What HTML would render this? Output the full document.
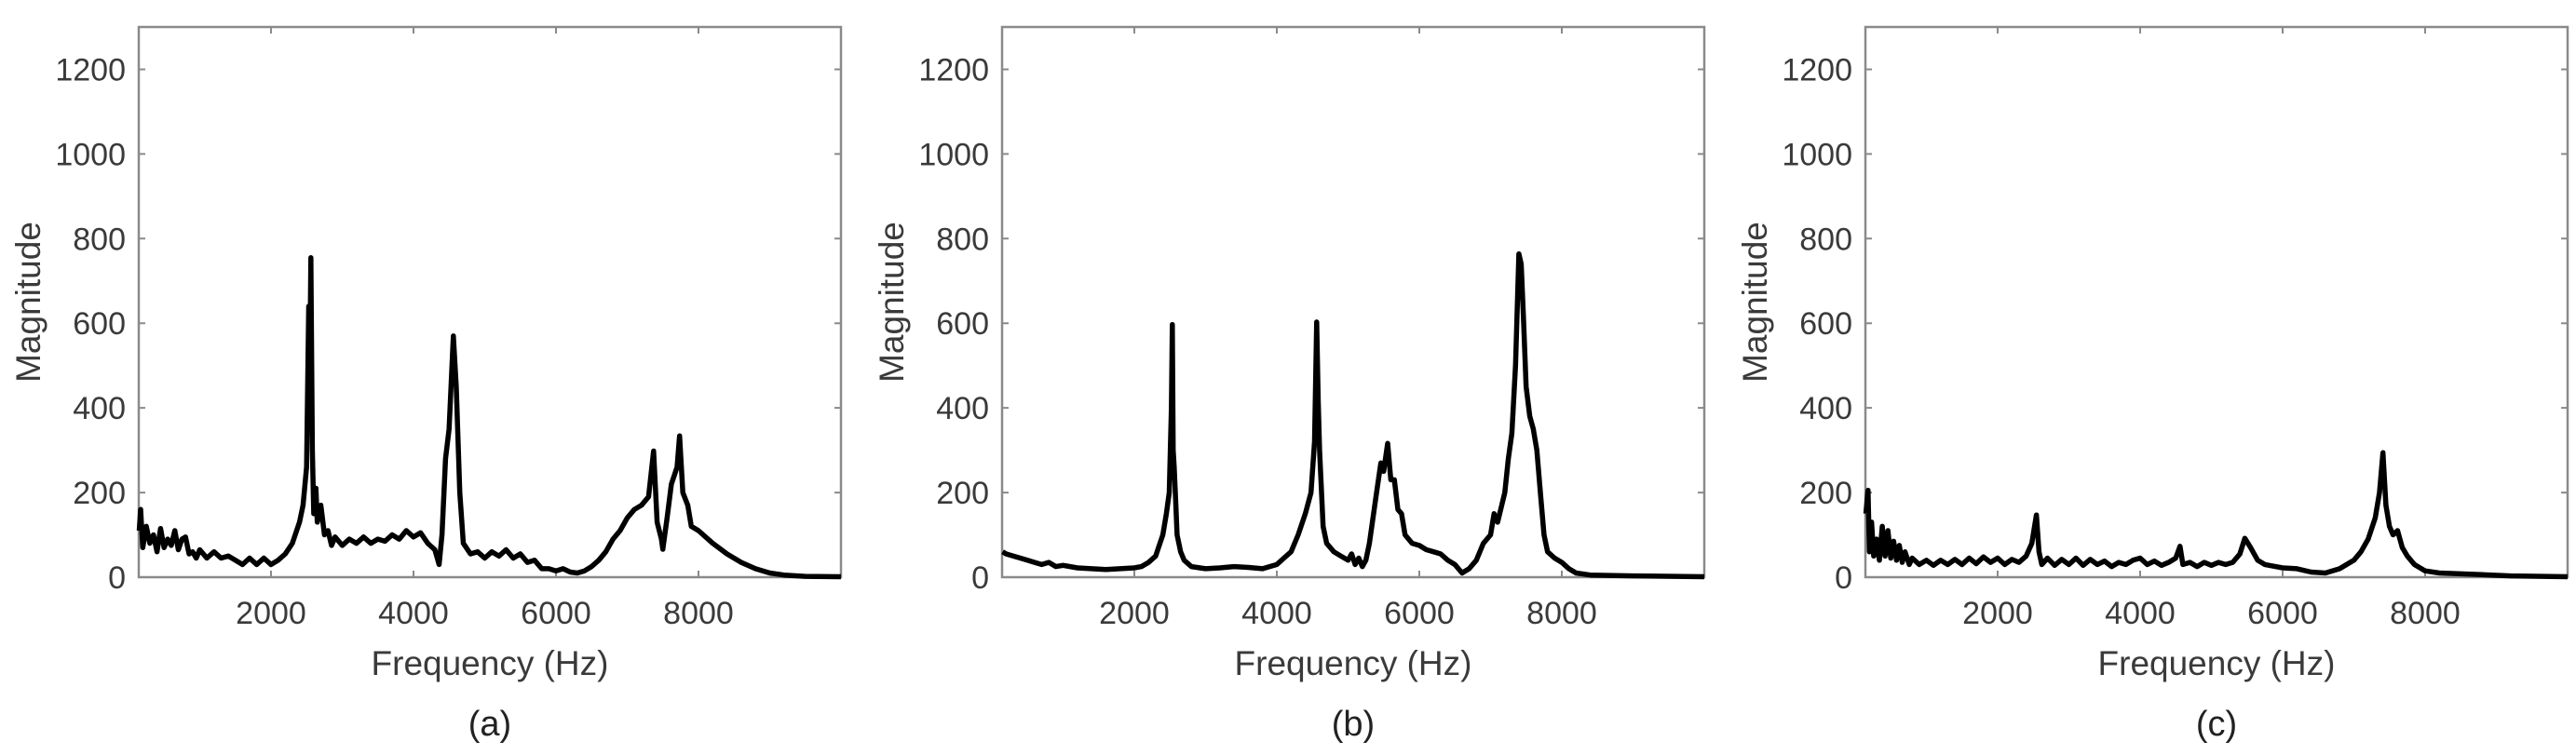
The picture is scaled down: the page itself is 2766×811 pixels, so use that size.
<!DOCTYPE html>
<html>
<head>
<meta charset="utf-8">
<style>
  html, body { margin: 0; padding: 0; background: #fff; }
  svg { display: block; }
  text { font-family: "Liberation Sans", Arial, sans-serif; }
</style>
</head>
<body>
<svg id="fig" width="2766" height="811" viewBox="0 0 2766 811" xmlns="http://www.w3.org/2000/svg"></svg>
<script>
// ---- data ----
const xTicks = [2000, 4000, 6000, 8000];
const yTicks = [0, 200, 400, 600, 800, 1000, 1200];
const panelCaptions = ["(a)", "(b)", "(c)"];

const freqA = [150,170,200,250,300,350,400,450,500,550,600,650,700,750,800,850,900,950,1000,1100,1200,1300,1400,1500,1600,1700,1800,1900,2000,2100,2200,2300,2400,2450,2500,2530,2545,2560,2580,2600,2630,2650,2700,2750,2800,2850,2900,3000,3100,3200,3300,3400,3500,3600,3700,3800,3900,4000,4100,4200,4300,4360,4400,4450,4500,4560,4600,4650,4700,4800,4900,5000,5100,5200,5300,5400,5500,5600,5700,5800,5900,6000,6100,6200,6300,6400,6500,6600,6700,6800,6900,7000,7100,7200,7300,7370,7420,7480,7500,7560,7620,7700,7735,7780,7850,7900,8000,8200,8400,8600,8800,9000,9200,9500,10000];
const magA  = [110,160,70,120,80,100,60,115,70,90,75,110,65,90,95,55,60,45,65,45,60,45,50,40,30,45,30,45,30,40,55,80,130,170,260,640,500,755,300,150,210,130,170,100,110,75,95,75,90,80,95,80,90,85,100,90,110,95,105,80,65,30,100,280,350,570,450,200,80,55,60,45,60,50,65,45,55,35,40,20,20,15,20,12,10,15,25,40,60,90,110,140,160,170,190,298,130,90,66,140,220,260,334,200,170,120,110,80,55,35,20,10,5,2,1];

const freqB = [150,200,300,400,500,600,700,800,900,1000,1200,1400,1600,1800,2000,2100,2200,2300,2400,2450,2490,2520,2533,2545,2560,2580,2600,2650,2700,2800,3000,3200,3400,3600,3800,4000,4100,4200,4300,4400,4480,4530,4559,4580,4600,4650,4700,4800,4900,5000,5050,5100,5150,5200,5250,5300,5400,5460,5500,5556,5600,5650,5700,5750,5800,5900,6000,6100,6200,6300,6400,6500,6600,6700,6800,6900,7000,7050,7100,7200,7250,7300,7350,7397,7430,7460,7500,7550,7600,7650,7700,7750,7800,7900,8000,8100,8200,8400,9000,10000];
const magB  = [60,55,50,45,40,35,30,35,25,28,22,20,18,20,22,25,35,50,100,150,200,400,597,300,260,180,100,60,40,25,20,22,25,23,20,30,45,60,100,150,200,320,603,420,300,120,80,60,50,40,55,30,45,25,40,80,200,270,250,316,230,230,160,150,100,80,75,65,60,55,40,30,10,20,40,80,100,150,130,200,280,340,500,764,740,620,450,380,350,300,200,100,60,45,35,20,10,5,3,1];

const freqC = [150,180,200,230,260,300,340,380,420,460,500,540,580,620,660,700,760,800,900,1000,1100,1200,1300,1400,1500,1600,1700,1800,1900,2000,2100,2200,2300,2400,2480,2544,2580,2620,2700,2800,2900,3000,3100,3200,3300,3400,3500,3600,3700,3800,3900,4000,4100,4200,4300,4400,4500,4560,4600,4700,4800,4900,5000,5100,5200,5300,5400,5469,5550,5650,5750,5900,6000,6200,6400,6600,6800,7000,7100,7200,7300,7360,7408,7450,7500,7550,7613,7680,7750,7850,8000,8200,8500,8800,9200,10000];
const magC  = [150,205,60,130,50,90,40,120,50,110,45,85,40,75,35,60,30,45,30,40,28,40,30,42,30,45,32,48,35,45,30,42,35,50,80,147,60,30,45,28,42,30,45,28,42,30,38,25,35,30,40,45,30,38,28,35,45,73,30,35,25,35,28,35,30,35,55,92,70,40,30,25,22,20,12,10,20,40,60,90,140,200,294,170,120,100,110,70,50,30,15,10,8,6,3,1];

const panelFreqs = [freqA, freqB, freqC];
const panelMags = [magA, magB, magC];

// ---- layout ----
const NS = "http://www.w3.org/2000/svg";
const svg = document.getElementById("fig");
const panelLefts = [149, 1076, 2003];
const PW = 754, TOP = 29, BOTTOM = 620;
const XMIN = 144, XMAX = 10000, YMIN = 0, YMAX = 1300;

function mk(tag, attrs, parent) {
  const e = document.createElementNS(NS, tag);
  for (const k in attrs) e.setAttribute(k, attrs[k]);
  (parent || svg).appendChild(e);
  return e;
}

for (let p = 0; p < 3; p++) {
  const L = panelLefts[p];
  const xs = v => L + (v - XMIN) / (XMAX - XMIN) * PW;
  const ys = v => BOTTOM - (v - YMIN) / (YMAX - YMIN) * (BOTTOM - TOP);

  const g = mk("g", {});
  
  

  const box = mk("rect", {x: L, y: TOP, width: PW, height: BOTTOM - TOP, fill: "none", stroke: "#8a8a8a", "stroke-width": 2.5}, g);
  
  

  yTicks.forEach(t => {
    const y = ys(t);
    const tk = mk("path", {d: `M${L} ${y}h7M${L+PW} ${y}h-7`, stroke: "#8a8a8a", "stroke-width": 2}, g);
    
    
    const lb = mk("text", {x: L - 14, y: y + 12, "text-anchor": "end", "font-size": 34, fill: "#3a3a3a"}, g);
    lb.textContent = t;
    
    
  });
  xTicks.forEach(t => {
    const x = xs(t);
    const tk = mk("path", {d: `M${x} ${BOTTOM}v-7M${x} ${TOP}v7`, stroke: "#8a8a8a", "stroke-width": 2}, g);
    
    
    const lb = mk("text", {x: x, y: 670, "text-anchor": "middle", "font-size": 34, fill: "#3a3a3a"}, g);
    lb.textContent = t;
    
    
  });

  const fr = panelFreqs[p], mg = panelMags[p];
  let d = "";
  for (let i = 0; i < fr.length; i++) d += (i ? "L" : "M") + xs(fr[i]).toFixed(1) + " " + ys(mg[i]).toFixed(1);
  const line = mk("path", {d: d, fill: "none", stroke: "#000", "stroke-width": 5.5, "stroke-linejoin": "round"}, g);
  
  

  const xt = mk("text", {x: L + PW / 2, y: 725, "text-anchor": "middle", "font-size": 37, fill: "#3a3a3a"}, g);
  xt.textContent = "Frequency (Hz)";
  
  

  const cy = (TOP + BOTTOM) / 2;
  const yt = mk("text", {x: L - 106, y: cy, "text-anchor": "middle", "font-size": 37, fill: "#3a3a3a", transform: `rotate(-90 ${L - 106} ${cy})`}, g);
  yt.textContent = "Magnitude";
  
  

  const cap = mk("text", {x: L + PW / 2, y: 790, "text-anchor": "middle", "font-size": 38, fill: "#222"}, g);
  cap.textContent = panelCaptions[p];
  
  
}
</script>
</body>
</html>
